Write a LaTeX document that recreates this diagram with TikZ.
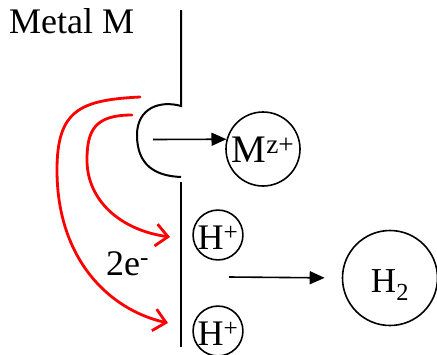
\documentclass[tikz,border=0pt]{standalone}
\usepackage{fontspec}
\setmainfont{Liberation Serif}
\usetikzlibrary{arrows.meta}

\tikzset{
  electrode/.style={line width=2pt},
  ion/.style={circle,draw,line width=1.6pt,inner sep=0pt,text height=29pt,text depth=0pt,
    font=\fontsize{36}{42}\selectfont},
  flow/.style={line width=1.6pt,-{Triangle[length=15pt,width=13pt]}},
  electron/.style={red,line width=2.8pt,line cap=round,-{Straight Barb[length=12pt,width=22pt]}},
  txt/.style={anchor=base west,inner sep=0pt,font=\fontsize{36}{42}\selectfont}
}

\begin{document}
\begin{tikzpicture}[x=1pt,y=-1pt]
  \useasboundingbox (0,0) rectangle (437,354);
  % Metal surface with pit
  \node[txt] (metal) at (9,33) {Metal M};
  \draw[electrode] (181,10) -- (181,106)
    .. controls (160,100) and (137,108) .. (137,135)
    .. controls (137,165) and (155,176) .. (181,177);
  \draw[electrode] (181,182) -- (181,347);
  % Ions
  \node[ion,minimum size=74pt,text height=27pt,font=\fontsize{39}{45}\selectfont] (mion) at (263,149) {M\textsuperscript{z+}};
  \node[ion,minimum size=48pt] (hone) at (218,235) {H\textsuperscript{+}};
  \node[ion,minimum size=48pt] (htwo) at (218,331) {H\textsuperscript{+}};
  \node[ion,minimum size=95pt,font=\fontsize{35}{40}\selectfont] (hgas) at (390,278) {H\textsubscript{2}};
  % Reactions
  \coordinate (pitout) at (153,139.5);
  \draw[flow] (pitout) -- (mion.165);
  \coordinate (react) at (229,277);
  \draw[flow,shorten >=17pt] (react) -- (hgas.west);
  % Electrons
  \node[txt] (elec) at (106,275) {2e\textsuperscript{-}};
  \coordinate (eout) at (140,97);
  \coordinate (eoutend) at (168,323);
  \coordinate (ein) at (132,115);
  \coordinate (einend) at (170,237);
  \draw[electron] (eout) .. controls (80,100) and (57,110) .. (57,170)
    .. controls (57,260) and (110,310) .. (eoutend);
  \draw[electron] (ein) .. controls (95,115) and (87,130) .. (87,160)
    .. controls (87,200) and (120,230) .. (einend);
\end{tikzpicture}
\end{document}
